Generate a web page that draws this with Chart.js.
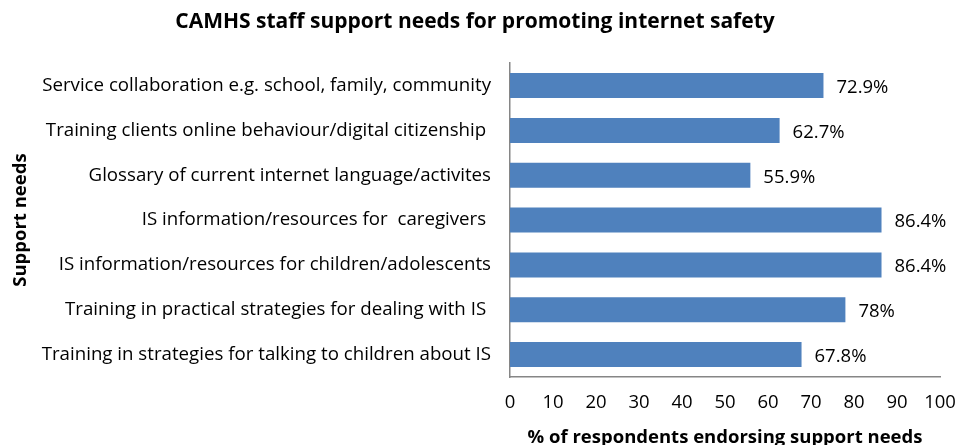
<!DOCTYPE html>
<html>
<head>
<meta charset="utf-8">
<script src="https://cdn.jsdelivr.net/npm/chart.js@4/dist/chart.umd.min.js"></script>
<style>
  html, body { margin: 0; padding: 0; background: #fff; }
  #wrap { width: 959px; height: 445px; }
</style>
</head>
<body>
<div id="wrap"><canvas id="chart" width="959" height="445"></canvas></div>
<script>
const categories = [
    'Service collaboration e.g. school, family, community',
    'Training clients online behaviour/digital citizenship ',
    'Glossary of current internet language/activites',
    'IS information/resources for  caregivers ',
    'IS information/resources for children/adolescents',
    'Training in practical strategies for dealing with IS ',
    'Training in strategies for talking to children about IS'
];
const percentages = [72.9, 62.7, 55.9, 86.4, 86.4, 78, 67.8];
const valueLabels = ['72.9%', '62.7%', '55.9%', '86.4%', '86.4%', '78%', '67.8%'];

const FONT = "'Open Sans', Lato, sans-serif";

// draws the percentage text just right of each bar
const barLabels = {
    id: 'barLabels',
    afterDatasetsDraw(chart) {
        const ctx = chart.ctx;
        const meta = chart.getDatasetMeta(0);
        ctx.save();
        ctx.font = '18.5px ' + FONT;
        ctx.fillStyle = '#000';
        ctx.textBaseline = 'middle';
        ctx.textAlign = 'left';
        meta.data.forEach((bar, i) => {
            ctx.fillText(valueLabels[i], bar.x + 13, bar.y + 2);
        });
        ctx.restore();
    }
};

new Chart(document.getElementById('chart'), {
    type: 'bar',
    data: {
        labels: categories,
        datasets: [{
            data: percentages,
            backgroundColor: '#4F81BD',
            borderWidth: 0,
            barPercentage: 0.62,
            categoryPercentage: 0.9
        }]
    },
    options: {
        indexAxis: 'y',
        responsive: false,
        animation: false,
        layout: { padding: { left: 10, right: 19, top: 0, bottom: 0 } },
        plugins: {
            legend: { display: false },
            tooltip: { enabled: false },
            title: {
                display: true,
                text: 'CAMHS staff support needs for promoting internet safety',
                color: '#000',
                font: { family: FONT, size: 21, weight: 'bold', lineHeight: 1.2 },
                padding: { top: 9, bottom: 29 }
            }
        },
        scales: {
            x: {
                min: 0,
                max: 100,
                afterFit: (scale) => {
                    scale.height = 68;
                    scale.paddingRight = 0;
                    scale.paddingLeft = 0;
                },
                ticks: {
                    stepSize: 10,
                    color: '#000',
                    padding: 15,
                    font: { family: FONT, size: 18.5 }
                },
                grid: { display: false, drawTicks: false },
                border: { display: true, color: '#868686', width: 1.5 },
                title: {
                    display: true,
                    text: '% of respondents endorsing support needs',
                    color: '#000',
                    font: { family: FONT, size: 18.5, weight: 'bold' },
                    padding: { top: 0, bottom: -4 }
                }
            },
            y: {
                afterFit: (scale) => { scale.width = 500; },
                ticks: {
                    color: '#000',
                    padding: 19,
                    font: { family: FONT, size: 18.7 }
                },
                grid: { display: false, drawTicks: false },
                border: { display: true, color: '#868686', width: 1.5 },
                title: {
                    display: true,
                    text: 'Support needs',
                    color: '#000',
                    font: { family: FONT, size: 18.5, weight: 'bold' },
                    padding: { top: 0, bottom: 4 }
                }
            }
        }
    },
    plugins: [barLabels]
});
</script>
</body>
</html>
